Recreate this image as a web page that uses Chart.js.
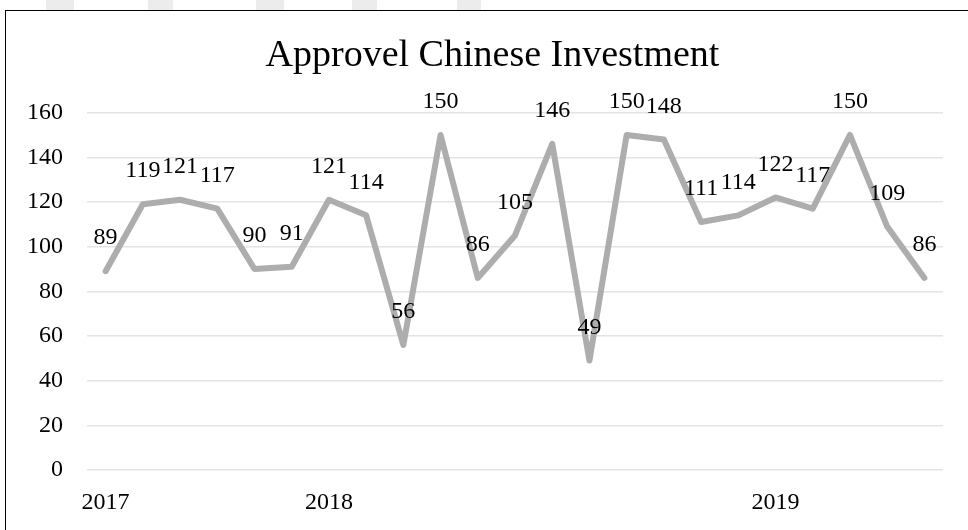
<!DOCTYPE html>
<html>
<head>
<meta charset="utf-8">
<script src="https://cdn.jsdelivr.net/npm/chart.js@4"></script>
<style>
  body { margin: 0; width: 968px; height: 530px; overflow: hidden; background: #fff; position: relative; }
  .blk { position: absolute; top: 0; height: 10px; background: #ececec; }
  #frame { position: absolute; left: 5px; top: 10px; width: 1000px; height: 600px; border: 1px solid #000; box-sizing: border-box; }
  #wrap { position: absolute; left: 0; top: 0; width: 968px; height: 530px; }
</style>
</head>
<body>
<div class="blk" style="left:46px;width:28px"></div>
<div class="blk" style="left:148px;width:25px"></div>
<div class="blk" style="left:256px;width:28px"></div>
<div class="blk" style="left:352px;width:25px"></div>
<div class="blk" style="left:457px;width:24px"></div>
<div id="frame"></div>
<div id="wrap"><canvas id="myChart" width="968" height="530"></canvas></div>
<script>
var labels = ['2017', '', '', '', '', '', '2018', '', '', '', '', '', '', '', '', '', '', '', '2019', '', '', '', ''];
var values = [89, 119, 121, 117, 90, 91, 121, 114, 56, 150, 86, 105, 146, 49, 150, 148, 111, 114, 122, 117, 150, 109, 86];
var yTicks = [0, 20, 40, 60, 80, 100, 120, 140, 160];

var serif = '"Liberation Serif", "Times New Roman", serif';

// draws the value above each point, like the Excel data labels
var pointLabels = {
  id: 'pointLabels',
  afterDatasetsDraw: function (chart) {
    var ctx = chart.ctx;
    var meta = chart.getDatasetMeta(0);
    ctx.save();
    ctx.font = '24px ' + serif;
    ctx.fillStyle = '#000';
    ctx.textAlign = 'center';
    ctx.textBaseline = 'middle';
    meta.data.forEach(function (pt, i) {
      ctx.fillText(values[i], pt.x, pt.y - 33);
    });
    ctx.restore();
  }
};

var ctx = document.getElementById('myChart').getContext('2d');
var myChart = new Chart(ctx, {
  type: 'line',
  data: {
    labels: labels,
    datasets: [{
      data: values,
      borderColor: '#adadad',
      borderWidth: 6,
      borderJoinStyle: 'round',
      borderCapStyle: 'round',
      pointRadius: 0,
      tension: 0
    }]
  },
  options: {
    responsive: false,
    animation: false,
    layout: { padding: { left: 17, right: 0, top: 0, bottom: 0 } },
    plugins: {
      legend: { display: false },
      tooltip: { enabled: false },
      title: {
        display: true,
        text: 'Approvel Chinese Investment',
        color: '#000',
        font: { family: serif, size: 38, weight: 'normal' },
        padding: { top: 33, bottom: 34 }
      }
    },
    scales: {
      x: {
        offset: true,
        grid: { display: false, drawTicks: false },
        border: { display: false },
        ticks: {
          color: '#000',
          font: { family: serif, size: 24 },
          padding: 18,
          maxRotation: 0,
          autoSkip: false
        },
        afterFit: function (scale) { scale.height = 60; }
      },
      y: {
        min: 0,
        max: 160,
        grid: { color: '#e4e4e4', lineWidth: 1.5, drawTicks: false },
        border: { display: false },
        afterBuildTicks: function (scale) {
          scale.ticks = yTicks.map(function (v) { return { value: v }; });
        },
        ticks: {
          color: '#000',
          font: { family: serif, size: 24 },
          padding: 24
        },
        afterFit: function (scale) { scale.width = 70; }
      },
      // empty right-hand axis that only keeps the right margin
      yRight: {
        position: 'right',
        min: 0,
        max: 160,
        grid: { display: false, drawTicks: false },
        border: { display: false },
        ticks: { display: false },
        afterFit: function (scale) { scale.width = 25; }
      }
    }
  },
  plugins: [pointLabels]
});
</script>
</body>
</html>
